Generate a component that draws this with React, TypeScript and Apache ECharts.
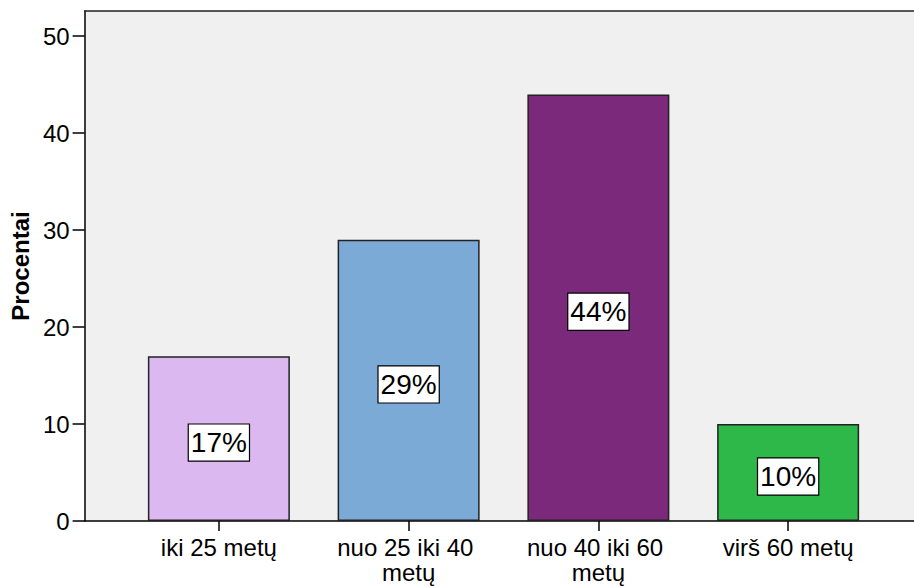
import React, { useEffect, useRef } from "react";
import * as echarts from "echarts";

const categories = ["iki 25 metų", "nuo 25 iki 40 metų", "nuo 40 iki 60 metų", "virš 60 metų"];
const percentValues = [17, 29, 44, 10];
const barColors = ["#DCB8F0", "#7BAAD6", "#7B2A7B", "#2EB84A"];
const yTicks = [0, 10, 20, 30, 40, 50];
const yAxisTitle = "Procentai";

export default function App() {
  const ref = useRef<HTMLDivElement>(null);
  useEffect(() => {
    if (!ref.current) return;
    const chart = echarts.init(ref.current, undefined, { renderer: "svg" });
    const yMax = 52.6;
    const font = "'Liberation Sans', Arial, sans-serif";
    chart.setOption({
      animation: false,
      backgroundColor: "#ffffff",
      grid: [
        { left: 82, right: 0, top: 11, bottom: 65, show: true, backgroundColor: "#F0F0F0", borderWidth: 0 },
        { left: 124, right: 31, top: 11, bottom: 65, show: false },
      ],
      xAxis: [
        {
          gridIndex: 0, type: "value", min: 0, max: 1, position: "bottom",
          axisLine: { show: true, lineStyle: { color: "#000", width: 1.5 } },
          axisTick: { show: false }, axisLabel: { show: false }, splitLine: { show: false },
        },
        {
          gridIndex: 0, type: "value", min: 0, max: 1, position: "top",
          axisLine: { show: true, lineStyle: { color: "#222", width: 1.5 } },
          axisTick: { show: false }, axisLabel: { show: false }, splitLine: { show: false },
        },
        {
          gridIndex: 1, type: "category", data: categories, position: "bottom",
          axisLine: { show: false },
          axisTick: { show: true, alignWithLabel: true, length: 10, lineStyle: { color: "#000", width: 1.5 } },
          axisLabel: {
            color: "#000", fontSize: 24, fontFamily: font, margin: 14, lineHeight: 25,
            width: 180, overflow: "break", interval: 0,
          },
          splitLine: { show: false },
        },
      ],
      yAxis: [
        {
          gridIndex: 0, type: "value", min: 0, max: yMax,
          axisLine: { show: true, lineStyle: { color: "#000", width: 1.5 } },
          axisTick: { show: true, length: 12, customValues: yTicks, lineStyle: { color: "#000", width: 1.5 } },
          axisLabel: { color: "#000", fontSize: 24, fontFamily: font, margin: 15, customValues: yTicks },
          splitLine: { show: false },
          name: yAxisTitle, nameLocation: "middle", nameGap: 46,
          nameTextStyle: { color: "#000", fontSize: 24, fontWeight: "bold", fontFamily: font },
        },
        { gridIndex: 1, type: "value", min: 0, max: yMax, show: false },
      ],
      series: [
        {
          type: "bar", xAxisIndex: 2, yAxisIndex: 1,
          barWidth: 142,
          data: percentValues.map((v, i) => ({ value: v, itemStyle: { color: barColors[i] } })),
          itemStyle: { borderColor: "#222", borderWidth: 1.5 },
          label: {
            show: true, position: "inside", offset: [0, 4],
            formatter: (p: any) => `${p.value}%`,
            color: "#000", fontSize: 28, fontFamily: font,
            backgroundColor: "#fff", borderColor: "#000", borderWidth: 1.2,
            padding: [3, 2, 1, 2], lineHeight: 32,
          },
        },
      ],
    });
    return () => chart.dispose();
  }, []);
  return <div ref={ref} style={{ position: "fixed", left: 0, top: 0, width: 914, height: 586 }} />;
}
